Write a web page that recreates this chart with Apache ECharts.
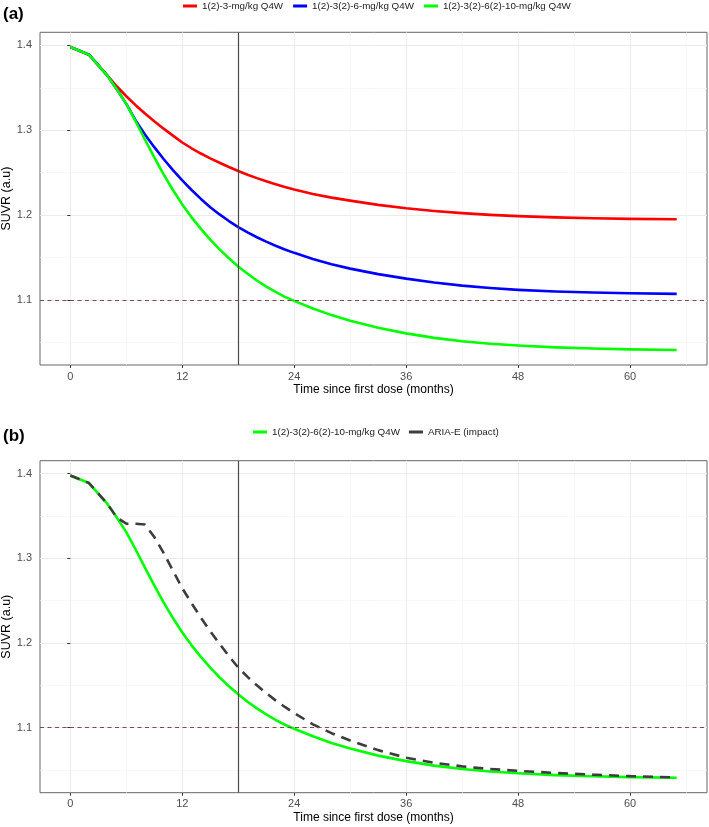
<!DOCTYPE html>
<html>
<head>
<meta charset="utf-8">
<script src="https://cdn.jsdelivr.net/npm/echarts@6/dist/echarts.min.js"></script>
<style>
html,body{margin:0;padding:0;background:#fff;}
#chart{width:709px;height:827px;}
</style>
</head>
<body>
<div id="chart"></div>
<script>
// ---- data ----
const months = [0,2,4,5,6,7,8,9,10,11,12,13,14,15,16,17,18,19,20,21,22,23,24,26,28,30,33,36,39,42,45,48,52,56,60,65];

const red3 = [1.398,1.389,1.364,1.3515,1.340,1.3295,1.3197,1.3105,1.3018,1.2936,1.2855,1.2787,1.2725,1.2668,1.2616,1.2566,1.2519,1.2475,1.2435,1.2398,1.2363,1.2330,1.2300,1.2248,1.2205,1.2170,1.2120,1.2080,1.2048,1.2022,1.2002,1.1987,1.1972,1.1962,1.1955,1.1950];
const blue6 = [1.398,1.389,1.364,1.348,1.331,1.3115,1.2950,1.2800,1.2660,1.2530,1.2408,1.2295,1.2190,1.2092,1.2007,1.1929,1.1857,1.1795,1.1738,1.1686,1.1638,1.1594,1.1554,1.1482,1.1420,1.1368,1.1303,1.1250,1.1205,1.1168,1.1140,1.1118,1.1098,1.1087,1.1078,1.1070];
const green10 = [1.398,1.389,1.364,1.348,1.331,1.3105,1.2890,1.2680,1.2480,1.2295,1.2125,1.1973,1.1836,1.1710,1.1595,1.1490,1.1394,1.1307,1.1228,1.1157,1.1093,1.1035,1.0988,1.0898,1.0820,1.0755,1.0670,1.0605,1.0552,1.0512,1.0483,1.0461,1.0440,1.0426,1.0416,1.0408];
const ariaE = [1.398,1.389,1.364,1.348,1.341,1.341,1.340,1.3253,1.3064,1.2856,1.2648,1.2470,1.2300,1.2140,1.1990,1.1845,1.1710,1.1600,1.1500,1.1408,1.1323,1.1245,1.1173,1.1040,1.0935,1.0848,1.0735,1.0645,1.0585,1.0543,1.0512,1.0490,1.0465,1.0445,1.0428,1.0412];

const seriesNames = ['1(2)-3-mg/kg Q4W','1(2)-3(2)-6-mg/kg Q4W','1(2)-3(2)-6(2)-10-mg/kg Q4W','ARIA-E (impact)'];

const xTicks = [0,12,24,36,48,60];
const xMinorTicks = [6,18,30,42,54,66];
const yTicks = [1.1,1.2,1.3,1.4];
const yMinorTicks = [1.05,1.15,1.25,1.35];
const refMonth = 18;
const threshold = 1.1;
const xRange = [-3.25, 68.25];
const yRange = [1.0232, 1.4154];

// ---- chart ----
const FONT = 'Liberation Sans';
const pair = vals => months.map((m,i)=>[m, vals[i]]);

function xAxes(gi){
  return [{
    type:'value', gridIndex:gi, min:xRange[0], max:xRange[1], position:'bottom',
    name:'Time since first dose (months)', nameLocation:'middle', nameGap:19,
    nameTextStyle:{fontFamily:FONT,fontSize:12,color:'#000'},
    axisLine:{show:false},
    axisTick:{show:true,length:3,lineStyle:{color:'#333',width:1},customValues:xTicks},
    axisLabel:{customValues:xTicks,fontFamily:FONT,fontSize:11,color:'#4d4d4d',margin:6},
    splitLine:{show:true,lineStyle:{color:'#ebebeb',width:1}}
  },{
    type:'value', gridIndex:gi, min:xRange[0], max:xRange[1], position:'top',
    axisLine:{show:false},
    axisTick:{show:false,customValues:xMinorTicks},
    axisLabel:{show:false,customValues:xMinorTicks},
    splitLine:{show:true,lineStyle:{color:'#f3f3f3',width:0.7}}
  }];
}
function yAxes(gi){
  return [{
    type:'value', gridIndex:gi, min:yRange[0], max:yRange[1], position:'left',
    name:'SUVR (a.u)', nameLocation:'middle', nameGap:27, nameMoveOverlap:false,
    nameTextStyle:{fontFamily:FONT,fontSize:12.5,color:'#000'},
    axisLine:{show:false},
    axisTick:{show:true,length:3,lineStyle:{color:'#333',width:1},customValues:yTicks},
    axisLabel:{customValues:yTicks,fontFamily:FONT,fontSize:11,color:'#4d4d4d',margin:8,
      formatter:v=>v.toFixed(1)},
    splitLine:{show:true,lineStyle:{color:'#ebebeb',width:1}}
  },{
    type:'value', gridIndex:gi, min:yRange[0], max:yRange[1], position:'right',
    axisLine:{show:false},
    axisTick:{show:false,customValues:yMinorTicks},
    axisLabel:{show:false,customValues:yMinorTicks},
    splitLine:{show:true,lineStyle:{color:'#f3f3f3',width:0.7}}
  }];
}

function refLines(){
  return {
    silent:true, symbol:['none','none'], label:{show:false}, animation:false,
    data:[
      {xAxis:refMonth, lineStyle:{color:'#4a4a4a',width:1.2,type:'solid'}},
      {yAxis:threshold, lineStyle:{color:'#7d4a4a',width:1,type:[4,3.5]}}
    ]
  };
}

function line(name, vals, color, gi, extra){
  return Object.assign({
    name:name, type:'line', xAxisIndex:gi*2, yAxisIndex:gi*2,
    data:pair(vals), showSymbol:false, symbol:'none', smooth:false,
    color:color, lineStyle:{color:color,width:2.6,join:'round'}, z:3
  }, extra||{});
}

const gridBase = {left:40,right:2,show:true,borderColor:'#666',borderWidth:1,backgroundColor:'#fff',
  containLabel:false, outerBoundsMode:'none'};

const option = {
  animation:false,
  backgroundColor:'#fff',
  grid:[
    Object.assign({top:32.3,bottom:827-365}, gridBase),
    Object.assign({top:460.7,bottom:827-792.7}, gridBase)
  ],
  xAxis:[...xAxes(0), ...xAxes(1)],
  yAxis:[...yAxes(0), ...yAxes(1)],
  legend:[
    {data:[seriesNames[0],seriesNames[1],seriesNames[2]], left:183, top:1, padding:0,
     icon:'rect', itemWidth:14, itemHeight:3, itemGap:10,
     textStyle:{fontFamily:FONT,fontSize:9.8,color:'#222'}},
    {data:[seriesNames[2],seriesNames[3]], left:253, top:427, padding:0,
     icon:'rect', itemWidth:14, itemHeight:3, itemGap:9,
     textStyle:{fontFamily:FONT,fontSize:9.8,color:'#222'}}
  ],
  graphic:[
    {type:'text', left:3, top:6, style:{text:'(a)', font:'bold 17px '+FONT, fill:'#000'}},
    {type:'text', left:3, top:428, style:{text:'(b)', font:'bold 17px '+FONT, fill:'#000'}}
  ],
  series:[
    line(seriesNames[0], red3, '#ff0000', 0, {markLine:refLines()}),
    line(seriesNames[1], blue6, '#0000ff', 0),
    line(seriesNames[2], green10, '#00ff00', 0),
    line(seriesNames[2], green10, '#00ff00', 1, {markLine:refLines()}),
    line(seriesNames[3], ariaE, '#3d3d3d', 1, {lineStyle:{color:'#3d3d3d',width:2.6,type:[10,7]}, z:4})
  ]
};

const chart = echarts.init(document.getElementById('chart'), null, {renderer:'canvas'});
chart.setOption(option);
</script>
</body>
</html>
